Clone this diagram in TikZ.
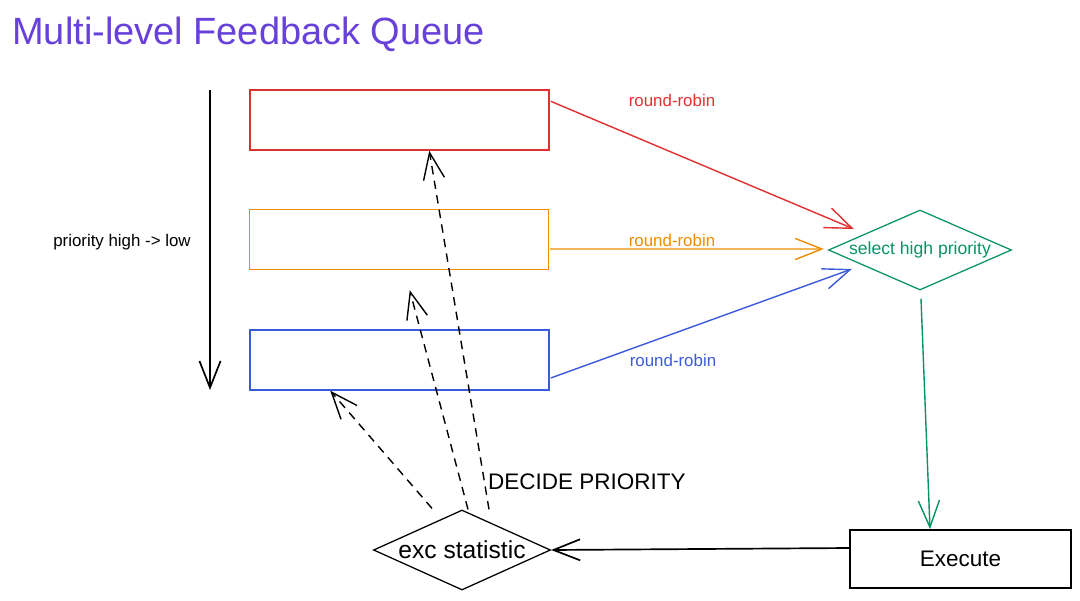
\documentclass[tikz,border=0pt]{standalone}
\usepackage{fontspec}
\setmainfont{Liberation Sans}
\usepackage{xcolor}
\usetikzlibrary{shapes.geometric,arrows.meta,calc}
\definecolor{titlecolor}{HTML}{6741D9}
\definecolor{highcolor}{HTML}{E03131}
\definecolor{midcolor}{HTML}{F08C00}
\definecolor{lowcolor}{HTML}{3B5BDB}
\definecolor{selcolor}{HTML}{099268}

\begin{document}
\begin{tikzpicture}[
    x=0.025cm, y=-0.025cm,
    queue/.style={rectangle, draw, line width=1pt,
                  minimum width=7.475cm,
                  minimum height=1.5cm},
    decision/.style={diamond, draw, line width=0.9pt,
                     inner sep=0pt,
                     minimum height=2cm},
    flow/.style={-{Straight Barb[length=19pt,width=15pt]}, line width=1pt},
    rrtext/.style={font=\fontsize{12}{14}\selectfont, inner sep=0pt}
]
\useasboundingbox (0,0) rectangle (1080,600);

\node[font=\fontsize{27}{32}\selectfont, text=titlecolor, anchor=base west, inner sep=0pt] (title) at (12,44) {Multi-level Feedback Queue};

% priority direction
\coordinate (ptop) at (210,90);
\coordinate (pbot) at (210,390);
\draw[flow, line width=1.2pt] (ptop) -- (pbot);
\node[rrtext] (prio) at (122,242) {priority high -> low};

% the three queues
\node[queue, draw=highcolor] (high) at (399.5,120) {};
\node[queue, draw=midcolor] (mid) at (399,239.5) {};
\node[queue, draw=lowcolor] (low) at (399.5,360) {};

\node[decision, draw=selcolor, text=selcolor, shape aspect=2.3, minimum width=4.575cm,
      font=\fontsize{12.5}{14}\selectfont] (sel) at (920,250) {select high priority};
\node[rectangle, draw, line width=1.2pt, minimum width=5.525cm, minimum height=1.45cm,
      font=\fontsize{16}{18}\selectfont] (exec) at (960.5,559) {Execute};
\node[decision, shape aspect=2.25, minimum width=4.425cm,
      font=\fontsize{17.5}{20}\selectfont] (stat) at (462,550) {exc statistic};

\draw[flow, highcolor] ($(high.north east)+(1,12)$) -- ($(sel.west)+(26,-21)$);
\node[rrtext, text=highcolor] (rr1) at (672,100) {round-robin};
\draw[flow, midcolor] ($(mid.east)+(1,9.5)$) -- ($(sel.west)+(-4,-1)$);
\node[rrtext, text=midcolor] (rr2) at (672,240) {round-robin};
\draw[flow, lowcolor] ($(low.east)+(1,18)$) -- ($(sel.west)+(24,19)$);
\node[rrtext, text=lowcolor] (rr3) at (673,360) {round-robin};

\draw[flow, selcolor] ($(sel.south)+(1,8)$) -- ($(exec.north)+(-30.5,0)$);
\draw[flow, line width=1.2pt] ($(exec.west)+(0,-11)$) -- (stat.east);

% feedback
\draw[flow, dash pattern=on 6pt off 4.5pt] ($(stat.north)+(-30,-1)$) -- ($(low.south west)+(81,0)$);
\draw[flow, dash pattern=on 6pt off 4.5pt] ($(stat.north)+(6,0)$) -- ($(mid.south west)+(161,20)$);
\draw[flow, dash pattern=on 6pt off 4.5pt] ($(stat.north)+(27,0)$) -- ($(high.south west)+(180,0)$);
\node[font=\fontsize{16}{18}\selectfont] (decide) at (587,482) {DECIDE PRIORITY};
\end{tikzpicture}
\end{document}
